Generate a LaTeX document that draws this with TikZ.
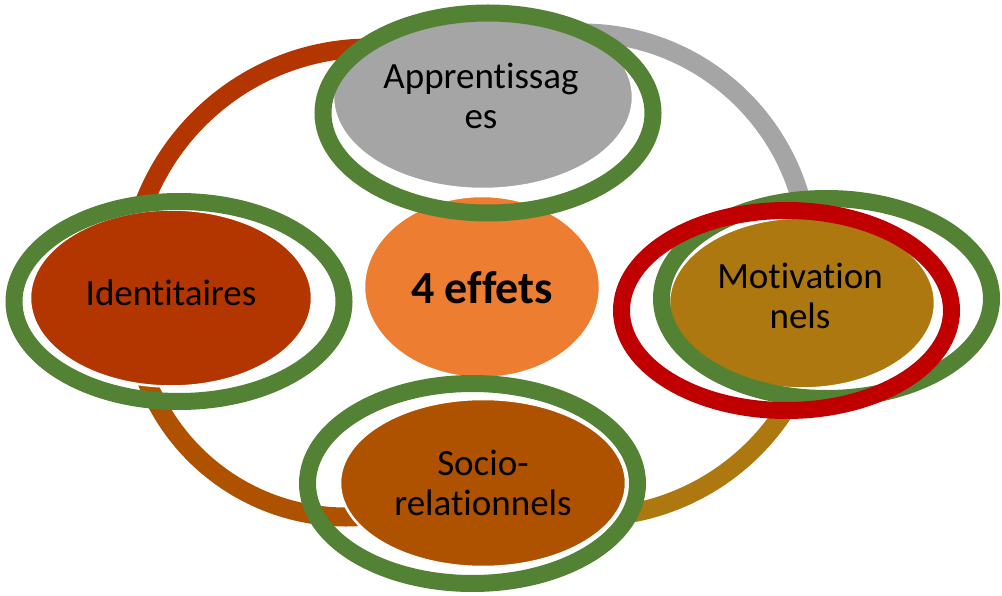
\documentclass[tikz,border=0pt]{standalone}
\usepackage{fontspec}
\setmainfont[Ligatures=NoCommon]{Carlito}
\usetikzlibrary{shapes.geometric}
\definecolor{cIdent}{HTML}{B33500}
\definecolor{cAppr}{HTML}{A5A5A5}
\definecolor{cMotiv}{HTML}{AC780F}
\definecolor{cSocio}{HTML}{AF5200}
\definecolor{cCenter}{HTML}{ED7D31}
\definecolor{cGreen}{HTML}{548235}
\definecolor{cRed}{HTML}{C00000}
\begin{document}
\begin{tikzpicture}[x=1pt,y=1pt,
  link/.style={line width=19pt, line cap=butt},
  blob/.style={ellipse, inner sep=0pt, draw=white, line width=2.5pt},
  halo/.style={ellipse, inner sep=0pt, line width=17pt, minimum width=330pt, minimum height=200pt},
  lbl/.style={font=\fontsize{37}{40}\selectfont, align=center, text=black},
]
\useasboundingbox (0,0) rectangle (1002,595);
% centres of the connecting arcs
\coordinate (k1) at (370,305);
\coordinate (k2) at (582,335);
\coordinate (k3) at (589,311);
\coordinate (k4) at (346,292);
\draw[link, cIdent] ([shift={(163:242pt)}]k1) arc[start angle=163, end angle=90, radius=242pt];
\draw[link, cAppr]  ([shift={(92:227pt)}]k2) arc[start angle=92, end angle=8, radius=227pt];
\draw[link, cMotiv] ([shift={(-24:233pt)}]k3) arc[start angle=-24, end angle=-79, radius=233pt];
\draw[link, cSocio] ([shift={(200:214pt)}]k4) arc[start angle=200, end angle=276, radius=214pt];
% filled ellipses
\node[blob, fill=cAppr,   minimum width=300pt, minimum height=184pt] (appr)   at (483,498) {};
\node[blob, fill=cIdent,  minimum width=282pt, minimum height=177pt] (ident)  at (171,297) {};
\node[blob, fill=cSocio,  minimum width=286pt, minimum height=168pt] (socio)  at (483,112) {};
\node[blob, fill=cMotiv,  minimum width=266pt, minimum height=171pt] (motiv)  at (802,292) {};
\node[blob, fill=cCenter, minimum width=236pt, minimum height=182pt] (centre) at (482,308) {};
% green outlines
\node[halo, draw=cGreen] (apprhalo)  at (488,482) {};
\node[halo, draw=cGreen] (identhalo) at (179,293.5) {};
\node[halo, draw=cGreen] (sociohalo) at (472.5,111.5) {};
\node[halo, draw=cGreen] (motivhalo) at (826.5,296.5) {};
% red outline
\node[halo, draw=cRed] (motivred) at (786.5,284.5) {};
% labels
\node[lbl] (apprtxt)  at (481,499) {Apprentissag\\es};
\node[lbl] (identtxt) at (171,302) {Identitaires};
\node[lbl] (motivtxt) at (800,299.5) {Motivation\\nels};
\node[lbl] (sociotxt) at (483,112) {Socio-\\relationnels};
\node[font=\fontsize{46}{50}\selectfont\bfseries, text=black] (centretxt) at (482,307.5) {4 effets};
\end{tikzpicture}
\end{document}
